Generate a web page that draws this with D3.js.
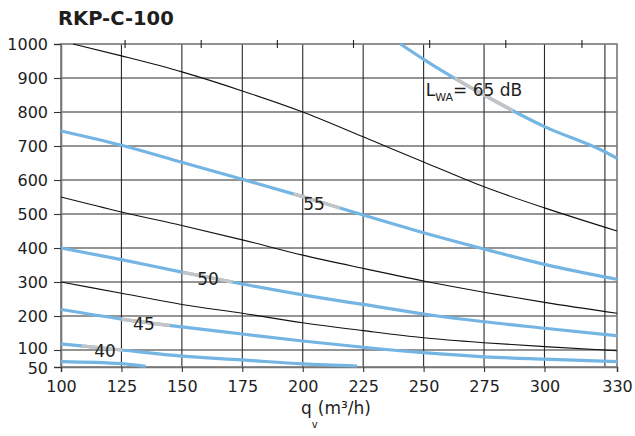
<!DOCTYPE html>
<html><head><meta charset="utf-8">
<script src="https://cdn.jsdelivr.net/npm/d3@7"></script>
<style>body{margin:0;background:#fff}text{font-family:"DejaVu Sans",sans-serif;fill:#1e1e1e}</style>
</head><body>
<svg id="chart" width="635" height="436"></svg>
<script>
// ---- data ----
const title = "RKP-C-100";
const xTickValues = [100, 125, 150, 175, 200, 225, 250, 275, 300, 330];
const xGridValues = [125, 150, 175, 200, 225, 250, 275, 300, 325];
const yTickValues = [50, 100, 200, 300, 400, 500, 600, 700, 800, 900, 1000];
const yGridValues = [100, 200, 300, 400, 500, 600, 700, 800, 900];
const topTickValues = [126.5, 158, 189.5, 221, 252.5, 284, 315.5];

const qStd = [100, 125, 150, 175, 200, 225, 250, 275, 300, 330];

// fan curves (black)
const fanHighQ = [105, 125, 150, 175, 200, 225, 250, 275, 300, 330];
const fanHighP = [1000, 965, 918, 862, 800, 727, 653, 580, 518, 450];
const fanMidP  = [550, 506, 466, 424, 379, 340, 303, 270, 240, 208];
const fanLowP  = [300, 267, 234, 208, 180, 157, 136, 121.5, 110, 98];

// sound level curves (blue)
const lw65Q = [240.4, 250, 275, 300, 325, 330];
const lw65P = [1000, 955, 850, 757, 683, 664];
const lw55P = [744, 702, 652, 602, 551, 497, 445, 397, 352, 308];
const lw50P = [400, 366, 329, 294, 262, 234, 206, 183, 164, 142];
const lw45P = [219, 191, 168, 147, 126.5, 108, 92, 80, 73, 66];
const lw40Q = [100, 125, 150, 175, 200, 222.5];
const lw40P = [118, 100, 82, 71, 59, 53];
const lw35Q = [100, 125, 135];
const lw35P = [66, 60, 52];

// label text, label positions (q, p) and the q-range where the curve is grey under the label
const levelLabels = ["55", "50", "45", "40"];
const levelLabelQ = [204.7, 160.8, 134.3, 118.2];
const levelLabelP = [512, 292.6, 158.8, 78.5];
const greyFrom = [196, 150.5, 125, 108.5];
const greyTo   = [215.5, 171, 145, 125.5];
const lw65GreyFrom = 263, lw65GreyTo = 287;

// ---- chart ----
const svg = d3.select("#chart");
const x = d3.scaleLinear().domain([100, 330]).range([61, 617]);
const y = d3.scaleLinear().domain([50, 1000]).range([367, 44]);
const zip = (qs, ps) => qs.map((q, i) => [q, ps[i]]);
const line = d3.line().x(d => x(d[0])).y(d => y(d[1])).curve(d3.curveMonotoneX);

// title
svg.append("text").attr("x", 58).attr("y", 25).attr("font-size", 19.5)
  .attr("font-weight", "bold").text(title);

// grid
const grid = svg.append("g");
grid.selectAll("line.v").data(xGridValues).join("line").attr("class", "v")
  .attr("x1", d => x(d)).attr("x2", d => x(d)).attr("y1", y(1000)).attr("y2", y(50))
  .attr("stroke", "#2a2a2a").attr("stroke-width", 1.1);
grid.selectAll("line.h").data(yGridValues).join("line").attr("class", "h")
  .attr("y1", d => y(d)).attr("y2", d => y(d)).attr("x1", x(100)).attr("x2", x(330))
  .attr("stroke", "#2a2a2a").attr("stroke-width", 1.1);

// frame
svg.append("rect").attr("x", x(100)).attr("y", y(1000))
  .attr("width", x(330) - x(100)).attr("height", y(50) - y(1000))
  .attr("fill", "none").attr("stroke", "#777").attr("stroke-width", 1.6);

// axes
const yAxis = svg.append("g").attr("transform", `translate(${x(100)},0)`)
  .call(d3.axisLeft(y).tickValues(yTickValues).tickSize(7).tickPadding(6).tickFormat(d3.format("d")));
const xAxis = svg.append("g").attr("transform", `translate(0,${y(50)})`)
  .call(d3.axisBottom(x).tickValues(xTickValues).tickSize(5).tickPadding(9).tickFormat(d3.format("d")));
[yAxis, xAxis].forEach(a => {
  a.select(".domain").attr("stroke", "#777").attr("stroke-width", 1.6);
  a.selectAll(".tick line").attr("stroke", "#333").attr("stroke-width", 1.1);
  a.selectAll(".tick text").attr("font-size", 16).attr("font-family", "DejaVu Sans").attr("fill", "#1e1e1e");
});
// keep the two closely spaced bottom labels (100 and 50) apart
yAxis.selectAll(".tick text").filter(d => d === 100).attr("dy", "0.24em");
yAxis.selectAll(".tick text").filter(d => d === 50).attr("dy", "0.42em");

// top ticks
svg.append("g").selectAll("line").data(topTickValues).join("line")
  .attr("x1", d => x(d)).attr("x2", d => x(d)).attr("y1", y(1000) - 4).attr("y2", y(1000) + 4)
  .attr("stroke", "#222").attr("stroke-width", 1.1);

// fan curves
const fans = [zip(fanHighQ, fanHighP), zip(qStd, fanMidP), zip(qStd, fanLowP)];
svg.append("g").selectAll("path").data(fans).join("path")
  .attr("d", line).attr("fill", "none").attr("stroke", "#111").attr("stroke-width", 1.1);

// sound curves
const blue = "#74b5e4", grey = "#c4c4c4";
const levels = [zip(lw65Q, lw65P), zip(qStd, lw55P), zip(qStd, lw50P), zip(qStd, lw45P), zip(lw40Q, lw40P), zip(lw35Q, lw35P)];
svg.append("g").selectAll("path").data(levels).join("path")
  .attr("d", line).attr("fill", "none").attr("stroke", blue).attr("stroke-width", 3.2)
  .attr("stroke-linecap", "butt");

// grey parts under the labels
const greyCurves = [levels[0], levels[1], levels[2], levels[3], levels[4]];
const gFrom = [lw65GreyFrom].concat(greyFrom);
const gTo = [lw65GreyTo].concat(greyTo);
const defs = svg.append("defs");
greyCurves.forEach((c, i) => {
  defs.append("clipPath").attr("id", "gc" + i).append("rect")
    .attr("x", x(gFrom[i])).attr("width", x(gTo[i]) - x(gFrom[i]))
    .attr("y", 0).attr("height", 436);
  svg.append("path").datum(c).attr("d", line).attr("fill", "none")
    .attr("stroke", grey).attr("stroke-width", 3.2).attr("clip-path", `url(#gc${i})`);
});

// level labels
svg.append("g").selectAll("text").data(levelLabels).join("text")
  .attr("x", (d, i) => x(levelLabelQ[i])).attr("y", (d, i) => y(levelLabelP[i]))
  .attr("text-anchor", "middle").attr("font-size", 17).text(d => d);

// L_WA = 65 dB
const lwa = svg.append("text").attr("x", x(250.9)).attr("y", y(848)).attr("font-size", 17);
lwa.append("tspan").text("L");
lwa.append("tspan").attr("font-size", 11).attr("dy", 5).text("WA");
lwa.append("tspan").attr("dy", -5).text("= 65 dB");

// x axis title
const xt = svg.append("text").attr("x", 336).attr("y", 414).attr("text-anchor", "middle").attr("font-size", 17);
xt.append("tspan").text("q");
xt.append("tspan").attr("font-size", 10).attr("dy", 14).text("v");
xt.append("tspan").attr("dy", -14).text("(m³/h)");
</script>
</body></html>
